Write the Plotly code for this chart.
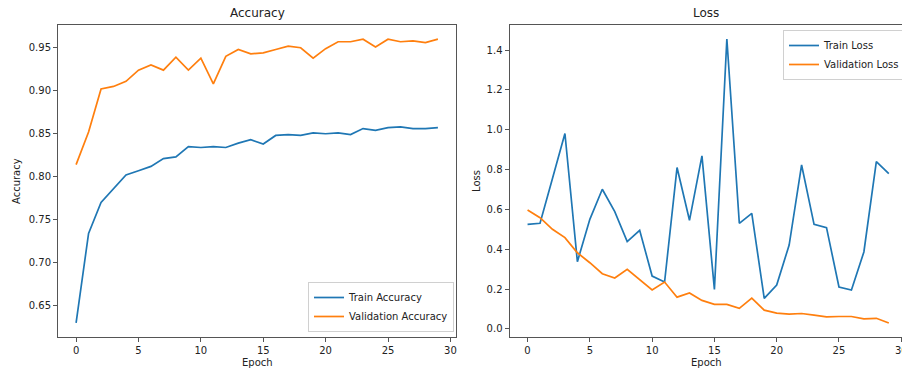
import plotly.graph_objects as go

# Training history per epoch
epochs = list(range(30))

train_acc = [0.630, 0.734, 0.770, 0.786, 0.802, 0.807, 0.812, 0.821, 0.823, 0.835,
             0.834, 0.835, 0.834, 0.839, 0.843, 0.838, 0.848, 0.849, 0.848, 0.851,
             0.850, 0.851, 0.849, 0.856, 0.854, 0.857, 0.858, 0.856, 0.856, 0.857]
val_acc = [0.814, 0.852, 0.902, 0.905, 0.911, 0.924, 0.930, 0.924, 0.939, 0.924,
           0.938, 0.908, 0.940, 0.948, 0.943, 0.944, 0.948, 0.952, 0.950, 0.938,
           0.949, 0.957, 0.957, 0.960, 0.951, 0.960, 0.957, 0.958, 0.956, 0.960]
train_loss = [0.525, 0.530, 0.755, 0.981, 0.337, 0.550, 0.701, 0.589, 0.438, 0.495,
              0.265, 0.235, 0.810, 0.545, 0.869, 0.198, 1.456, 0.530, 0.580, 0.153,
              0.220, 0.421, 0.823, 0.525, 0.508, 0.210, 0.195, 0.386, 0.840, 0.780]
val_loss = [0.597, 0.558, 0.500, 0.458, 0.382, 0.332, 0.277, 0.255, 0.299, 0.246,
            0.195, 0.235, 0.159, 0.180, 0.143, 0.123, 0.123, 0.103, 0.154, 0.094,
            0.079, 0.074, 0.077, 0.069, 0.060, 0.062, 0.062, 0.050, 0.053, 0.029]

acc_ticks = [0.65, 0.70, 0.75, 0.80, 0.85, 0.90, 0.95]
loss_ticks = [0.0, 0.2, 0.4, 0.6, 0.8, 1.0, 1.2, 1.4]
epoch_ticks = [0, 5, 10, 15, 20, 25, 30]

BLUE = "#1f77b4"
ORANGE = "#ff7f0e"
FONT = "DejaVu Sans"
TXT = "#222222"
SPINE = "#555555"

fig = go.Figure()
fig.add_trace(go.Scatter(x=epochs, y=train_acc, mode="lines", name="Train Accuracy",
                         line=dict(color=BLUE, width=1.7), xaxis="x", yaxis="y", legend="legend"))
fig.add_trace(go.Scatter(x=epochs, y=val_acc, mode="lines", name="Validation Accuracy",
                         line=dict(color=ORANGE, width=1.7), xaxis="x", yaxis="y", legend="legend"))
fig.add_trace(go.Scatter(x=epochs, y=train_loss, mode="lines", name="Train Loss",
                         line=dict(color=BLUE, width=1.7), xaxis="x2", yaxis="y2", legend="legend2"))
fig.add_trace(go.Scatter(x=epochs, y=val_loss, mode="lines", name="Validation Loss",
                         line=dict(color=ORANGE, width=1.7), xaxis="x2", yaxis="y2", legend="legend2"))

W, H = 902, 370
ML, MR, MT, MB = 58, 0, 25, 33
PW = W - ML - MR
PH = H - MT - MB


def px_x(px):
    return (px - ML) / PW


def px_y(py):
    return (H - MB - py) / PH


axis_common = dict(showgrid=False, zeroline=False, showline=True, linecolor=SPINE, linewidth=1,
                   ticks="outside", ticklen=4, tickcolor=SPINE, tickwidth=1,
                   ticklabeloverflow="allow", automargin=False,
                   tickfont=dict(family=FONT, size=10, color=TXT))

fig.update_layout(
    width=W, height=H,
    margin=dict(l=ML, r=MR, t=MT, b=MB, autoexpand=False),
    paper_bgcolor="white", plot_bgcolor="white",
    font=dict(family=FONT, color=TXT),
    xaxis=dict(domain=[0, px_x(456)], range=[-1.45, 30.45], tickvals=epoch_ticks,
               mirror=True, anchor="y", **axis_common),
    yaxis=dict(domain=[0, 1], range=[0.6135, 0.9765], tickvals=acc_ticks, tickformat=".2f",
               mirror=True, anchor="x", **axis_common),
    xaxis2=dict(domain=[px_x(509.5), 1], range=[-1.45, 30.06], tickvals=epoch_ticks,
                mirror=True, anchor="y2", **axis_common),
    yaxis2=dict(domain=[0, 1], range=[-0.041, 1.526], tickvals=loss_ticks, tickformat=".1f",
                mirror=False, anchor="x2", **axis_common),
    legend=dict(x=px_x(308), y=px_y(332), xanchor="left", yanchor="bottom",
                bgcolor="rgba(255,255,255,0.8)", bordercolor="#d0d0d0", borderwidth=1,
                font=dict(family=FONT, size=10, color=TXT), tracegroupgap=0),
    legend2=dict(x=px_x(783), y=px_y(30), xanchor="left", yanchor="top",
                 bgcolor="rgba(255,255,255,0.8)", bordercolor="#d0d0d0", borderwidth=1,
                 font=dict(family=FONT, size=10, color=TXT), tracegroupgap=0),
    showlegend=True,
)

annotations = [
    dict(text="Accuracy", x=px_x(257), y=px_y(13), font=dict(size=12)),
    dict(text="Loss", x=px_x(706), y=px_y(13), font=dict(size=12)),
    dict(text="Epoch", x=px_x(257), y=px_y(362), font=dict(size=10)),
    dict(text="Epoch", x=px_x(706), y=px_y(362), font=dict(size=10)),
    dict(text="Accuracy", x=px_x(16), y=px_y(181), font=dict(size=10), textangle=-90),
    dict(text="Loss", x=px_x(476), y=px_y(181), font=dict(size=10), textangle=-90),
]
for a in annotations:
    fig.add_annotation(xref="paper", yref="paper", showarrow=False,
                       xanchor="center", yanchor="middle",
                       x=a["x"], y=a["y"], text=a["text"], textangle=a.get("textangle", 0),
                       font=dict(family=FONT, color=TXT, size=a["font"]["size"]))

fig.write_html("out.html")
